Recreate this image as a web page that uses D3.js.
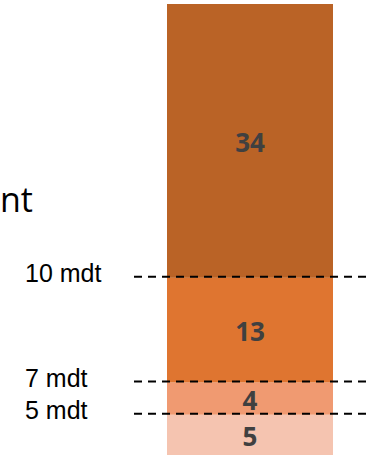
<!DOCTYPE html>
<html>
<head>
<meta charset="utf-8">
<script src="https://cdn.jsdelivr.net/npm/d3@7"></script>
<style>
  html, body { margin: 0; padding: 0; background: #fff; overflow: hidden; }
  svg { display: block; }
</style>
</head>
<body>
<svg id="chart" width="366" height="455"></svg>
<script>
// Stacked segments, bottom to top
const segments = ["0-5", "5-7", "7-10", "10+"];
const values = [5, 4, 13, 34];
const colors = ["#F5C4B0", "#F09A71", "#DF7530", "#BA6326"];
// Threshold markers sit on the segment boundaries (cumulative value)
const thresholdLabels = ["5 mdt", "7 mdt", "10 mdt"];
const thresholdValues = [5, 9, 22];
const titleFragment = "nt";

const svg = d3.select("#chart");
const W = 366, H = 455;

const total = d3.sum(values);
const y = d3.scaleLinear().domain([0, total]).range([455, 4]);
const barX = 167, barW = 166;

let acc = 0;
const stack = values.map((v, i) => {
  const d = { key: segments[i], v, y0: acc, y1: acc + v, color: colors[i] };
  acc += v;
  return d;
});

// Heading fragment on the left edge
svg.append("text")
  .attr("x", 0)
  .attr("y", 212)
  .attr("font-family", "'Open Sans', sans-serif")
  .attr("font-size", 34)
  .attr("fill", "#000")
  .text(titleFragment);

// Bar segments
svg.selectAll("rect.seg")
  .data(stack)
  .join("rect")
  .attr("class", "seg")
  .attr("x", barX)
  .attr("width", barW)
  .attr("y", d => y(d.y1))
  .attr("height", d => y(d.y0) - y(d.y1))
  .attr("fill", d => d.color);

// Value labels
svg.selectAll("text.val")
  .data(stack)
  .join("text")
  .attr("class", "val")
  .attr("x", barX + barW / 2)
  .attr("y", d => (y(d.y0) + y(d.y1)) / 2 + 11)
  .attr("text-anchor", "middle")
  .attr("font-family", "'Open Sans', sans-serif")
  .attr("font-weight", "bold")
  .attr("font-size", 26)
  .attr("fill", "#404040")
  .text(d => d.v);

// Threshold dashed lines and their labels
const th = thresholdValues.map((v, i) => ({ v, label: thresholdLabels[i] }));

svg.selectAll("line.th")
  .data(th)
  .join("line")
  .attr("class", "th")
  .attr("x1", 134)
  .attr("x2", W)
  .attr("y1", d => y(d.v) - 1)
  .attr("y2", d => y(d.v) - 1)
  .attr("stroke", "#000")
  .attr("stroke-width", 2)
  .attr("stroke-dasharray", "8,6");

svg.selectAll("text.th")
  .data(th)
  .join("text")
  .attr("class", "th")
  .attr("x", 25)
  .attr("y", d => y(d.v) + 4.5)
  .attr("font-family", "'Liberation Sans', Arial, sans-serif")
  .attr("font-size", 25)
  .attr("fill", "#000")
  .text(d => d.label);
</script>
</body>
</html>
